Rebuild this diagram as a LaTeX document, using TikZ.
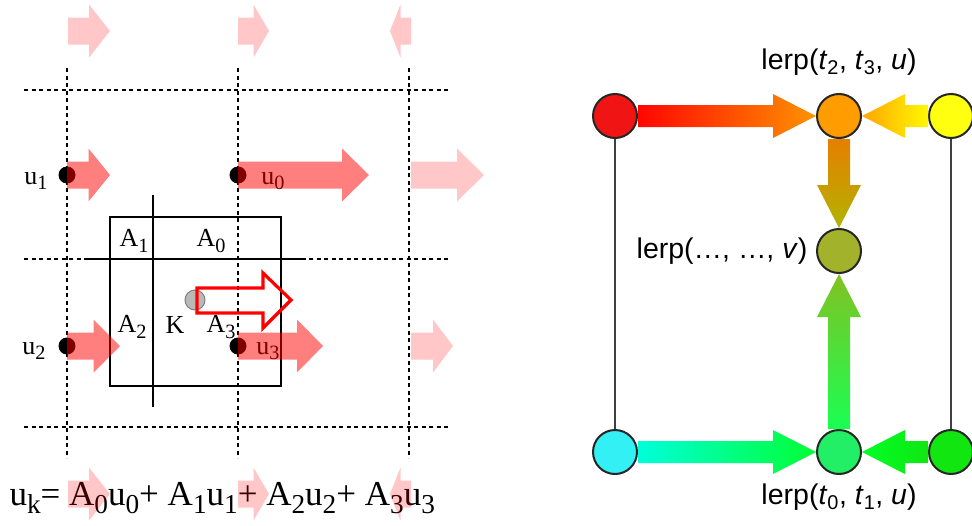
\documentclass[tikz,border=0pt]{standalone}
\usepackage{fontspec}
\setmainfont{Liberation Serif}
\newfontfamily\lerpfont{Liberation Sans}
\usetikzlibrary{calc}
\definecolor{ptred}{HTML}{F01414}
\definecolor{ptorange}{HTML}{FF9C00}
\definecolor{ptyellow}{HTML}{FFFF10}
\definecolor{ptolive}{HTML}{A2B22A}
\definecolor{ptcyan}{HTML}{33F0F5}
\definecolor{ptgreen}{HTML}{22EE66}
\definecolor{ptlime}{HTML}{11E611}
\newcommand{\lowsub}[1]{\raisebox{-0.45ex}{\scalebox{0.78}{#1}}}
\newcommand{\velarrow}[5]{\fill[red,opacity=#5] (#1,{#3-13.5}) -- ({#2-(#4)},{#3-13.5}) -- ({#2-(#4)},{#3-26.5}) -- (#2,#3) -- ({#2-(#4)},{#3+26.5}) -- ({#2-(#4)},{#3+13.5}) -- (#1,{#3+13.5}) -- cycle;}
\newcommand{\blockarrow}[3]{\coordinate (ba-h) at ($(#2)!43pt!(#1)$);
\shade[#3] ($(#1)!11pt!90:(#2)$) -- ($(ba-h)!11pt!-90:(#1)$) -- ($(ba-h)!22pt!-90:(#1)$) -- (#2) -- ($(ba-h)!22pt!90:(#1)$) -- ($(ba-h)!11pt!90:(#1)$) -- ($(#1)!11pt!-90:(#2)$) -- cycle;}

\begin{document}
\begin{tikzpicture}[x=1pt,y=-1pt,
  gridline/.style={line width=2.8, dash pattern=on 4pt off 3.5pt},
  cellline/.style={line width=2.8},
  gridlabel/.style={font=\fontsize{26}{30}\selectfont},
  lerpnode/.style={circle, draw=black!85, line width=2, minimum size=44, inner sep=0},
  lerplabel/.style={font=\lerpfont\fontsize{28.5}{34}\selectfont}]
\useasboundingbox (0,0) rectangle (972,525);
\foreach \gx in {67,238,409} \draw[gridline] (\gx,68) -- (\gx,458);
\foreach \gy in {90,259,427} \draw[gridline] (24,\gy) -- (450,\gy);
\draw[cellline] (110,217) rectangle (281,386);
\draw[cellline] (153,195) -- (153,407);
\draw[cellline] (85,259) -- (303,259);
\fill (67,175) circle (8.5);
\fill (238,175) circle (8.5);
\fill (67,346) circle (8.5);
\fill (238,346) circle (8.5);
\draw[draw=gray, fill=gray!55, line width=1] (195,300) circle (10);
\node[gridlabel] (u1) at (36,181) {u\lowsub{1}};
\node[gridlabel] (u0) at (273,181) {u\lowsub{0}};
\node[gridlabel] (u2) at (34,351) {u\lowsub{2}};
\node[gridlabel] (u3) at (268,351) {u\lowsub{3}};
\node[gridlabel] (a1) at (134,241) {A\lowsub{1}};
\node[gridlabel] (a0) at (211,241) {A\lowsub{0}};
\node[gridlabel] (a2) at (132,327) {A\lowsub{2}};
\node[gridlabel] (k) at (175,325) {K};
\node[gridlabel] (a3) at (221,327) {A\lowsub{3}};
\node[anchor=west, font=\fontsize{35}{40}\selectfont] (eq) at (6,498)
  {u\lowsub{k}= A\lowsub{0}u\lowsub{0}+ A\lowsub{1}u\lowsub{1}+ A\lowsub{2}u\lowsub{2}+ A\lowsub{3}u\lowsub{3}};
\velarrow{68}{110}{31}{21}{0.22}
\velarrow{238}{269}{31}{15.5}{0.22}
\velarrow{411}{390}{31}{-10.5}{0.22}
\velarrow{67}{110}{175}{21.5}{0.5}
\velarrow{238}{369}{175}{27}{0.5}
\velarrow{411}{484}{175}{27}{0.22}
\velarrow{67}{120}{346}{26.5}{0.5}
\velarrow{238}{323}{346}{26}{0.5}
\velarrow{411}{453}{346}{20}{0.22}
\velarrow{68}{110}{494}{21}{0.22}
\velarrow{238}{269}{494}{15.5}{0.22}
\velarrow{411}{390}{494}{-10.5}{0.22}
\draw[red, line width=3.2] (197,288) -- (263,288) -- (263,273) -- (291,300) -- (263,328) -- (263,313) -- (197,313) -- cycle;
\node[lerpnode, fill=ptred] (p2) at (615,116) {};
\node[lerpnode, fill=ptorange] (q1) at (839,116) {};
\node[lerpnode, fill=ptyellow] (p3) at (951,116) {};
\node[lerpnode, fill=ptolive] (q) at (839,251) {};
\node[lerpnode, fill=ptcyan] (p0) at (615,452) {};
\node[lerpnode, fill=ptgreen] (q0) at (839,452) {};
\node[lerpnode, fill=ptlime] (p1) at (951,452) {};
\draw[line width=2, black!75] (p2) -- (p0);
\draw[line width=2, black!75] (p3) -- (p1);
\blockarrow{p2.east}{q1.west}{left color=red!95!orange, right color=orange!85!yellow}
\blockarrow{p3.west}{q1.east}{left color=orange!70!yellow, right color=yellow!95!orange}
\blockarrow{q1.south}{q.north}{top color=orange!80!olive, bottom color=olive!60!yellow}
\blockarrow{q0.north}{q.south}{bottom color=green!75!cyan!90!white, top color=ptolive!80!green}
\blockarrow{p0.east}{q0.west}{left color=cyan!85!green, right color=green!80!cyan}
\blockarrow{p1.west}{q0.east}{left color=green!85!cyan, right color=ptlime}
\node[lerplabel] (l1) at (839,62) {lerp(\textit{t}\textsubscript{2}, \textit{t}\textsubscript{3}, \textit{u})};
\node[lerplabel, anchor=east] (lq) at (811,251) {lerp(…, …, \textit{v})};
\node[lerplabel] (l0) at (839,497) {lerp(\textit{t}\textsubscript{0}, \textit{t}\textsubscript{1}, \textit{u})};
\end{tikzpicture}
\end{document}
